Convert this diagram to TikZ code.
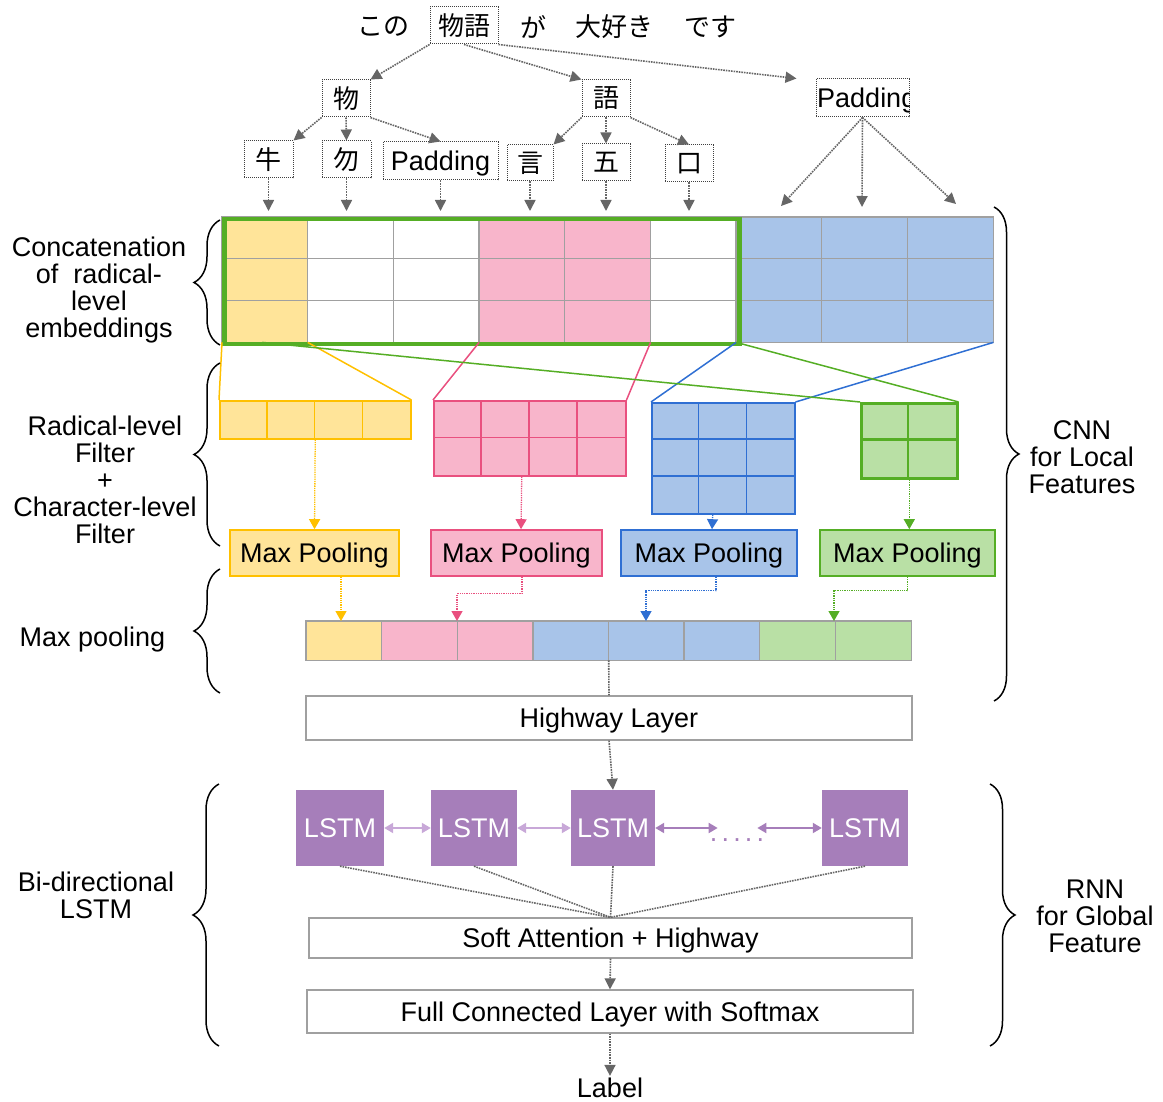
\documentclass[tikz,border=0pt]{standalone}
\usepackage{fontspec}
\setmainfont{Liberation Sans}
\newfontfamily\cjk{Noto Sans CJK JP}
\usetikzlibrary{arrows.meta,decorations.pathreplacing,calc}

\definecolor{ylwF}{HTML}{FFE499}
\definecolor{ylwD}{HTML}{FFC000}
\definecolor{pnkF}{HTML}{F8B5CB}
\definecolor{pnkD}{HTML}{E9507F}
\definecolor{bluF}{HTML}{A8C4E9}
\definecolor{bluD}{HTML}{2F6FD3}
\definecolor{grnF}{HTML}{B9E0A5}
\definecolor{grnD}{HTML}{55AE25}
\definecolor{lstm}{HTML}{A67EBA}
\definecolor{lstmL}{HTML}{C8A8D8}
\definecolor{conn}{HTML}{666666}
\definecolor{gridc}{HTML}{A0A0A0}

\tikzset{
  jp/.style={font=\cjk\fontsize{26}{28}\selectfont},
  tok/.style={draw=black!75, dash pattern=on 1pt off 1pt, line width=1pt, inner sep=0pt},
  link/.style={draw=conn, dash pattern=on 1.6pt off 1pt, line width=1.6pt, -{Triangle[length=11pt,width=11pt]}},
  plainlink/.style={draw=conn, dash pattern=on 1.6pt off 1pt, line width=1.6pt},
  capcentre/.style={text height=19.3pt, text depth=0pt},
  layer/.style={draw=gridc, line width=1.3pt, fill=white, inner sep=0pt, capcentre, font=\fontsize{27}{30}\selectfont},
  pool/.style={line width=1.6pt, inner sep=0pt, minimum height=46, capcentre, font=\fontsize{27}{30}\selectfont},
  lstmbox/.style={fill=lstm, text=white, inner sep=0pt, minimum height=76, font=\fontsize{27}{30}\selectfont},
  cell/.style={inner sep=0pt, anchor=north west},
  side/.style={align=center, font=\fontsize{27}{27}\selectfont},
  brc/.style={draw=black, line width=1.5pt, decorate, decoration={brace, amplitude=26pt}},
  rbrc/.style={draw=black, line width=1.5pt, decorate, decoration={brace, amplitude=25pt}},
  bidir/.style={line width=2pt, {Triangle[length=9pt,width=10pt]}-{Triangle[length=9pt,width=10pt]}},
  cflow/.style={dash pattern=on 1.3pt off 1pt, line width=1.3pt, -{Triangle[length=10pt,width=11pt]}},
  feed/.style={line width=1.5pt},
}

\begin{document}
\begin{tikzpicture}[x=1pt,y=-1pt]
\useasboundingbox (0,0) rectangle (1163,1102);

% ---------- sentence and its decomposition ----------
\node[jp] (w1) at (383,27) {この};
\node[jp, tok, minimum width=68, minimum height=37] (w2) at (464,25.5) {物語};
\node[jp] (w3) at (533,27) {が};
\node[jp] (w4) at (614,27) {大好き};
\node[jp] (w5) at (710,27) {です};

\node[jp, tok, minimum width=48, minimum height=37] (c1) at (346,98.5) {物};
\node[jp, tok, minimum width=48, minimum height=37] (c2) at (606,98.5) {語};
\node[tok, minimum width=93, minimum height=38] (padR) at (862.5,98) {};
\begin{scope}
  \clip (padR.south west) rectangle (padR.north east);
  \node[anchor=west, inner sep=0pt, capcentre, font=\fontsize{27}{30}\selectfont] (padRtxt) at ($(padR.west)+(1.5,0)$) {Padding};
\end{scope}

\node[jp, tok, minimum width=49, minimum height=37] (r1) at (268.5,159.5) {牛};
\node[jp, tok, minimum width=49, minimum height=37] (r2) at (346.5,159.5) {勿};
\node[tok, minimum width=115, minimum height=38, capcentre, font=\fontsize{27}{30}\selectfont] (padL) at (440.5,161) {Padding};
\node[jp, tok, minimum width=46, minimum height=36] (r4) at (530,163) {言};
\node[jp, tok, minimum width=48, minimum height=37] (r5) at (606,162.5) {五};
\node[jp, tok, minimum width=48, minimum height=37] (r6) at (689,163.5) {口};

\draw[link] (w2.south west) -- (c1.north east);
\draw[link] (w2.south) -- (c2.north west);
\draw[link] (w2.south east) -- ($(padR.north west)+(-19,0)$);

\draw[link] (c1.south west) -- (r1.north east);
\draw[link] (c1.south) -- (r2.north);
\draw[link] (c1.south east) -- (padL.north);
\draw[link] (c2.south west) -- (r4.north east);
\draw[link] (c2.south) -- (r5.north);
\draw[link] (c2.south east) -- (r6.north);

% ---------- radical-level embedding matrix ----------
\node[cell, minimum width=771, minimum height=125] (emb) at (222,217) {};
\foreach \i/\c in {0/ylwF,1/white,2/white,3/pnkF,4/pnkF,5/white,6/bluF,7/bluF,8/bluF}
  \fill[\c] (222+\i*85.667,217) rectangle ++(85.667,125);
\foreach \i in {1,...,8}
  \draw[gridc, line width=1.2pt] (222+\i*85.667,217) -- ++(0,125);
\foreach \j in {1,2}
  \draw[gridc, line width=1.2pt] (222,217+\j*41.667) -- ++(771,0);
\draw[gridc, line width=1.2pt] (emb.north west) rectangle (emb.south east);
\node[cell, draw=grnD, line width=4.5pt, minimum width=515, minimum height=125] (win) at (222,217) {};

\coordinate (mtop) at (0,211);
\foreach \t in {r1,r2,padL,r4,r5,r6}
  \draw[link] (\t.south) -- (\t.south |- mtop);

\coordinate (pa) at (781,206);
\coordinate (pb) at (862,207);
\coordinate (pc) at (956,204);
\draw[link] (padR.south) -- (pa);
\draw[link] (padR.south) -- (pb);
\draw[link] (padR.south) -- (pc);

\foreach \k in {1,3,5,6}
  \coordinate (b\k) at ($(emb.south west)!\k/9!(emb.south east)$);
\coordinate (bh) at ($(emb.south west)!0.47/9!(emb.south east)$);

% ---------- filters ----------
\node[cell, draw=ylwD, fill=ylwF, line width=1.5pt, minimum width=191, minimum height=38] (fy) at (219,400) {};
\foreach \k in {1,2,3} \draw[ylwD, line width=1.5pt] (219+\k*47.75,400) -- ++(0,38);

\node[cell, draw=pnkD, fill=pnkF, line width=1.5pt, minimum width=192, minimum height=75] (fp) at (433,400) {};
\foreach \k in {1,2,3} \draw[pnkD, line width=1.5pt] (433+\k*48,400) -- ++(0,75);
\draw[pnkD, line width=1.5pt] (433,437.5) -- ++(192,0);

\node[cell, draw=bluD, fill=bluF, line width=1.5pt, minimum width=143, minimum height=111] (fb) at (651,402) {};
\foreach \k in {1,2} \draw[bluD, line width=1.5pt] (651+\k*47.67,402) -- ++(0,111);
\foreach \k in {1,2} \draw[bluD, line width=1.5pt] (651,402+\k*37) -- ++(143,0);

\node[cell, draw=grnD, fill=grnF, line width=2.6pt, minimum width=96, minimum height=75] (fg) at (860,402) {};
\draw[grnD, line width=2.6pt] (908,402) -- ++(0,75);
\draw[grnD, line width=2.6pt] (860,439.5) -- ++(96,0);

% windows of the embedding matrix feeding each filter
\draw[feed, ylwD] (emb.south west) -- (fy.north west);
\draw[feed, ylwD] (b1) -- (fy.north east);
\draw[feed, pnkD] (b3) -- (fp.north west);
\draw[feed, pnkD] (b5) -- (fp.north east);
\draw[feed, bluD] (b6) -- (fb.north west);
\draw[feed, bluD] (emb.south east) -- (fb.north east);
\draw[feed, grnD] (bh) -- (fg.north west);
\draw[feed, grnD] (b6) -- (fg.north east);

% ---------- max pooling ----------
\node[pool, draw=ylwD, fill=ylwF, minimum width=169] (mpY) at (314.5,553) {Max Pooling};
\node[pool, draw=pnkD, fill=pnkF, minimum width=171] (mpP) at (516.5,553) {Max Pooling};
\node[pool, draw=bluD, fill=bluF, minimum width=176] (mpB) at (709,553) {Max Pooling};
\node[pool, draw=grnD, fill=grnF, minimum width=175] (mpG) at (907.5,553) {Max Pooling};

\draw[cflow, ylwD] (fy.south) -- (mpY.north);
\draw[cflow, pnkD] ($(fp.south)+(-8,0)$) -- ($(mpP.north)+(4.5,0)$);
\draw[cflow, bluD] ($(fb.south)+(-10.5,0)$) -- ($(mpB.north)+(3,0)$);
\draw[cflow, grnD] (fg.south) -- (mpG.north -| fg.south);

% pooled feature vector
\node[cell, minimum width=605, minimum height=39] (pv) at (306,621) {};
\foreach \i/\c in {0/ylwF,1/pnkF,2/pnkF,3/bluF,4/bluF,5/bluF,6/grnF,7/grnF}
  \fill[\c] (306+\i*75.625,621) rectangle ++(75.625,39);
\foreach \i in {1,...,7}
  \draw[gridc, line width=1.3pt] (306+\i*75.625,621) -- ++(0,39);
\draw[gridc, line width=1.3pt] (pv.north west) rectangle (pv.south east);

\coordinate (pvy) at (341,621);
\coordinate (pvp) at (457,621);
\coordinate (pvb) at (646,621);
\coordinate (pvg) at (834,621);
\draw[cflow, ylwD] (mpY.south -| pvy) -- (pvy);
\draw[cflow, pnkD] ($(mpP.south)+(5.5,0)$) -- ++(0,17) -| (pvp);
\draw[cflow, bluD] ($(mpB.south)+(7,0)$) -- ++(0,14) -| (pvb);
\draw[cflow, grnD] (mpG.south) -- ++(0,14) -| (pvg);

% ---------- highway and recurrent part ----------
\node[layer, minimum width=606, minimum height=44] (hw) at (609,718) {Highway Layer};
\draw[plainlink] (pv.south) -- (hw.north);

\node[lstmbox, minimum width=88] (L1) at (340,828) {LSTM};
\node[lstmbox, minimum width=86] (L2) at (474,828) {LSTM};
\node[lstmbox, minimum width=84] (L3) at (613,828) {LSTM};
\node[lstmbox, minimum width=86] (L4) at (865,828) {LSTM};
\node[inner sep=0pt, text=lstm, font=\fontsize{27}{30}\selectfont] (dd) at (737,840)
  {.\kern4.2pt.\kern4.2pt.\kern4.2pt.\kern4.2pt.};

\draw[link] (hw.south) -- (L3.north);

\draw[bidir, lstmL] (L1.east) -- (L2.west);
\draw[bidir, lstmL] (L2.east) -- (L3.west);
\draw[bidir, lstm] (L3.east) -- ($(L3.east -| dd.west)+(8,0)$);
\draw[bidir, lstm] ($(L4.west -| dd.east)+(-7,0)$) -- (L4.west);

\node[layer, minimum width=603, minimum height=40] (att) at (610.5,938) {Soft Attention + Highway};
\foreach \l in {L1,L2,L3,L4}
  \draw[plainlink] (\l.south) -- (att.north);

\node[layer, minimum width=606, minimum height=43] (fc) at (610,1011.5) {Full Connected Layer with Softmax};
\draw[link] (att.south) -- (fc.north);

\node[font=\fontsize{27}{30}\selectfont, inner sep=2pt] (lab) at (610,1088) {Label};
\draw[link] (fc.south) -- (lab.north);

% ---------- braces and their captions ----------
\draw[brc] (220,345) -- (220,220);
\node[side] (t1) at (99,290.5) {Concatenation\\of\ \ radical-\\level\\embeddings};
\draw[brc] (220,546) -- (220,363);
\node[side] (t2) at (105,479.5) {Radical-level\\Filter\\+\\Character-level\\Filter};
\draw[brc] (220,693) -- (220,569);
\node[side] (t3) at (92.5,640) {Max pooling};
\draw[brc] (219,1046) -- (219,784);
\node[side] (t4) at (96,895.5) {Bi-directional\\LSTM};

\draw[rbrc] (994,207) -- (994,701);
\node[side] (t5) at (1082,457) {CNN\\for Local\\Features};
\draw[rbrc] (990,784) -- (990,1046);
\node[side] (t6) at (1095,916) {RNN\\for Global\\Feature};

\end{tikzpicture}
\end{document}
